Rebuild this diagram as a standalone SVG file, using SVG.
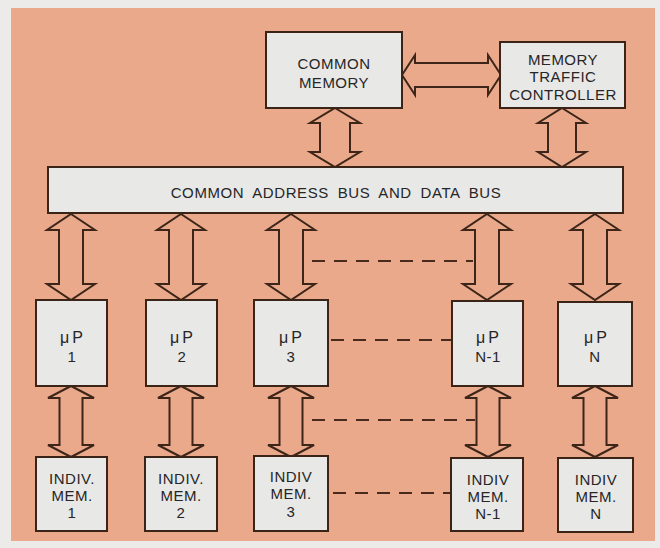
<svg xmlns="http://www.w3.org/2000/svg" width="660" height="548" viewBox="0 0 660 548">
  <style>
    .box { fill: #e8e8e6; stroke: #3a2418; stroke-width: 2; }
    .arr { fill: #e9a98a; stroke: #3e2519; stroke-width: 2; stroke-linejoin: miter; }
    .dash { fill: none; stroke: #4a2a1c; stroke-width: 2; stroke-dasharray: 13 9; }
    text { font-family: "Liberation Sans", Arial, sans-serif; font-size: 15px; fill: #262626; text-anchor: middle; letter-spacing: 0.5px; }
    .bus { letter-spacing: 0.6px; word-spacing: 4px; }
    .mu { letter-spacing: 3px; font-size: 16px; }
  </style>
  <defs>
    <path id="vTop" d="M0,0 L24,16 L12,16 L12,70 L24,70 L0,86 L-24,70 L-12,70 L-12,16 L-24,16 Z"/>
    <path id="vBot" d="M0,0 L23,12 L11.5,12 L11.5,59 L23,59 L0,71 L-23,59 L-11.5,59 L-11.5,12 L-23,12 Z"/>
  </defs>
  <rect x="0" y="0" width="660" height="548" fill="#ecebe9"/>
  <rect x="11" y="8" width="644" height="533" fill="#e9a98a"/>

  <g id="connectors">
    <path class="arr" d="M402,75 L415,55 L415,63 L488,63 L488,55 L501,75 L488,95 L488,87 L415,87 L415,95 Z"/>
    <path class="arr" d="M335,108 L360,123 L350,123 L350,152 L360,152 L335,167 L310,152 L320,152 L320,123 L310,123 Z"/>
    <path class="arr" d="M562,108 L586,123 L576,123 L576,152 L586,152 L562,167 L538,152 L548,152 L548,123 L538,123 Z"/>
    <use href="#vTop" class="arr" transform="translate(71,214)"/>
    <use href="#vTop" class="arr" transform="translate(181,214)"/>
    <use href="#vTop" class="arr" transform="translate(291,214)"/>
    <use href="#vTop" class="arr" transform="translate(487,214)"/>
    <use href="#vTop" class="arr" transform="translate(595,214)"/>
    <use href="#vBot" class="arr" transform="translate(71,386)"/>
    <use href="#vBot" class="arr" transform="translate(181,386)"/>
    <use href="#vBot" class="arr" transform="translate(291,386)"/>
    <use href="#vBot" class="arr" transform="translate(488,386)"/>
    <use href="#vBot" class="arr" transform="translate(595,386)"/>
    <line class="dash" x1="312" y1="261" x2="473" y2="261"/>
    <line class="dash" x1="331" y1="340" x2="451" y2="340"/>
    <line class="dash" x1="312" y1="420" x2="475" y2="420"/>
    <line class="dash" x1="333" y1="493" x2="451" y2="493"/>
  </g>

  <g id="common-memory">
    <rect class="box" x="266" y="32" width="136" height="76"/>
    <text x="334" y="68.5">COMMON</text>
    <text x="334" y="87.5">MEMORY</text>
  </g>
  <g id="memory-traffic-controller">
    <rect class="box" x="500" y="42" width="125" height="66"/>
    <text x="563" y="64.5">MEMORY</text>
    <text x="563" y="81.5">TRAFFIC</text>
    <text x="563" y="99.5">CONTROLLER</text>
  </g>
  <g id="bus">
    <rect class="box" x="48" y="167" width="575" height="46"/>
    <text class="bus" x="336" y="197.5">COMMON ADDRESS BUS AND DATA BUS</text>
  </g>

  <g id="up1">
    <rect class="box" x="36" y="300" width="71" height="86"/>
    <text class="mu" x="73" y="343">μP</text>
    <text x="72" y="362">1</text>
  </g>
  <g id="up2">
    <rect class="box" x="146" y="300" width="71" height="86"/>
    <text class="mu" x="183" y="343">μP</text>
    <text x="182" y="362">2</text>
  </g>
  <g id="up3">
    <rect class="box" x="254" y="300" width="74" height="86"/>
    <text class="mu" x="292" y="343">μP</text>
    <text x="291" y="362">3</text>
  </g>
  <g id="upN-1">
    <rect class="box" x="452" y="301" width="71" height="85"/>
    <text class="mu" x="489" y="343">μP</text>
    <text x="488" y="362">N-1</text>
  </g>
  <g id="upN">
    <rect class="box" x="558" y="302" width="74" height="84"/>
    <text class="mu" x="597" y="343">μP</text>
    <text x="595" y="362">N</text>
  </g>

  <g id="mem1">
    <rect class="box" x="36" y="457" width="71" height="74"/>
    <text x="72" y="484">INDIV.</text>
    <text x="72" y="501">MEM.</text>
    <text x="72" y="518">1</text>
  </g>
  <g id="mem2">
    <rect class="box" x="145" y="457" width="72" height="74"/>
    <text x="181" y="484">INDIV.</text>
    <text x="181" y="501">MEM.</text>
    <text x="181" y="518">2</text>
  </g>
  <g id="mem3">
    <rect class="box" x="254" y="456" width="74" height="75"/>
    <text x="291" y="482">INDIV</text>
    <text x="291" y="499">MEM.</text>
    <text x="291" y="517">3</text>
  </g>
  <g id="memN-1">
    <rect class="box" x="451" y="458" width="72" height="73"/>
    <text x="488" y="485">INDIV</text>
    <text x="488" y="502">MEM.</text>
    <text x="488" y="519">N-1</text>
  </g>
  <g id="memN">
    <rect class="box" x="558" y="458" width="75" height="74"/>
    <text x="596" y="485">INDIV</text>
    <text x="596" y="502">MEM.</text>
    <text x="596" y="519">N</text>
  </g>
</svg>
